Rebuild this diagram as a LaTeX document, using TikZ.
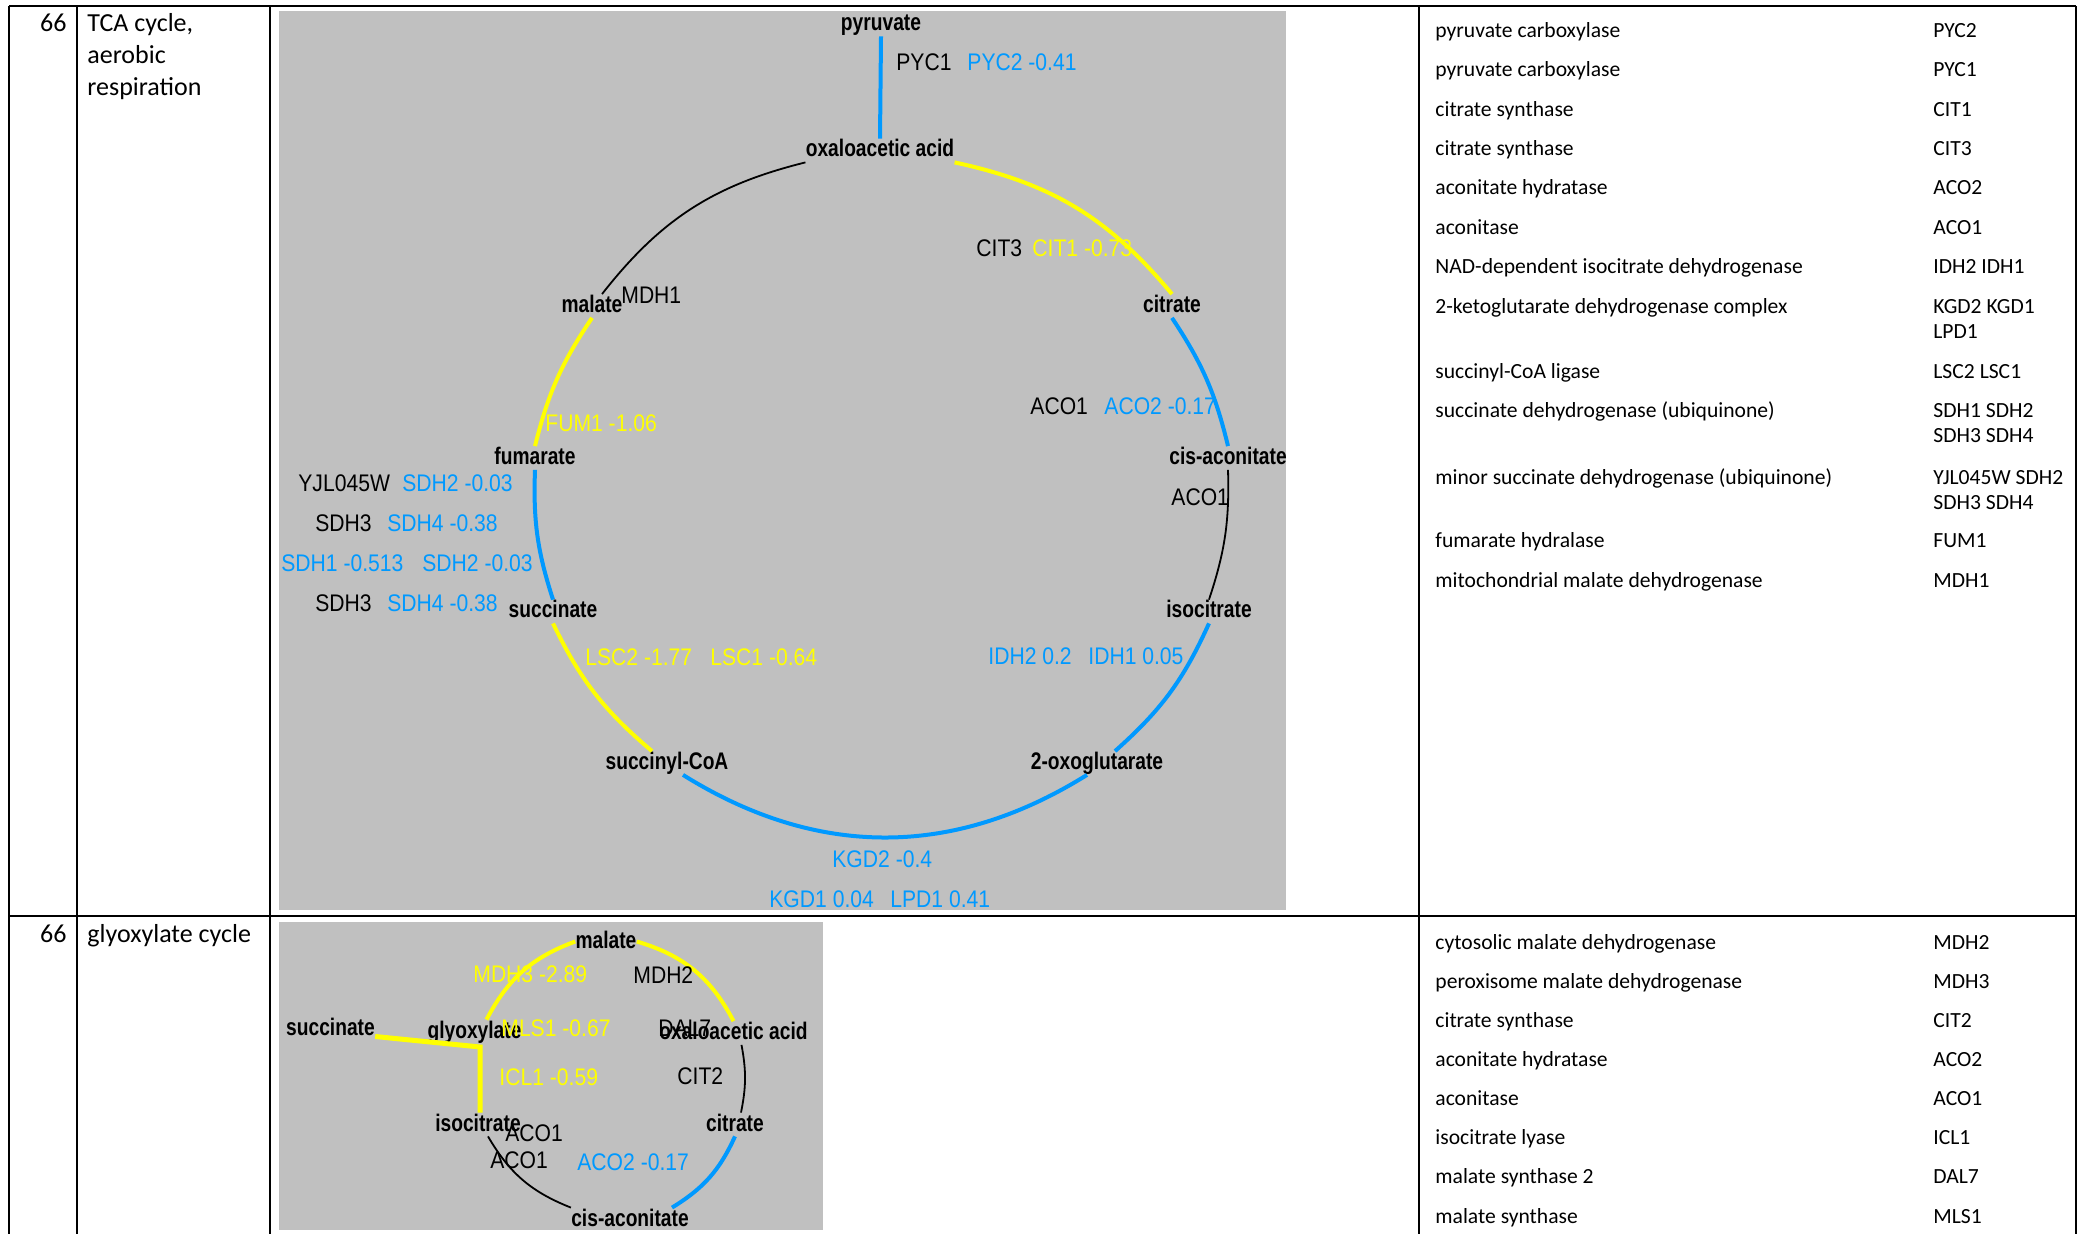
\documentclass[tikz,border=0pt]{standalone}
\usepackage{fontspec}
\setmainfont{Carlito}
\newfontfamily\mapfont[FakeStretch=0.88]{Liberation Sans}
\newfontfamily\mapbold[FakeStretch=0.8]{Liberation Sans Bold}
\usepackage{tikz}
\usetikzlibrary{calc}
\definecolor{panel}{RGB}{192,192,192}
\definecolor{upblue}{RGB}{0,153,255}
\definecolor{downyel}{RGB}{255,255,0}
\tikzset{
  rule/.style={line width=1.1pt},
  yel/.style={draw=downyel, line width=2pt},
  blu/.style={draw=upblue, line width=2pt},
  blk/.style={draw=black, line width=0.9pt},
  met/.style={font=\mapbold\fontsize{12}{14}\selectfont, inner sep=0pt, text height=9pt, text depth=2.5pt},
  gene/.style={font=\mapfont\fontsize{12}{14}\selectfont, inner sep=0pt, anchor=west},
  cell/.style={font=\fontsize{13}{16}\selectfont, inner sep=0pt, anchor=base west},
  enz/.style={font=\fontsize{10.8}{13}\selectfont, inner sep=0pt, anchor=base west}
}

\begin{document}
\begin{tikzpicture}[x=0.5pt, y=0.5pt]
  \useasboundingbox (0,0) rectangle (2082,-1234);
  % table rules
  \draw[rule] (9,-6) -- (2076,-6);
  \draw[rule] (9,-916) -- (2076,-916);
  \foreach \x in {9,77,270,1419,2076}
    \draw[rule] (\x,-6) -- (\x,-1234);
  % grey panels
  \fill[panel] (279,-11) rectangle (1286,-910);
  \fill[panel] (279,-922) rectangle (823,-1230);

  % first row
  \node[cell, anchor=base east] (num1) at (67,-32) {66};
  \node[cell] (cap1) at (87,-32) {TCA cycle,};
  \node[cell] (cap2) at (87,-64) {aerobic};
  \node[cell] (cap3) at (87,-96) {respiration};
  \foreach \name/\gene/\y [count=\i] in {
      pyruvate carboxylase/PYC2/38, pyruvate carboxylase/PYC1/77,
      citrate synthase/CIT1/116.5, citrate synthase/CIT3/156,
      aconitate hydratase/ACO2/194.5, aconitase/ACO1/235,
      NAD-dependent isocitrate dehydrogenase/IDH2 IDH1/273.5,
      2-ketoglutarate dehydrogenase complex/KGD2 KGD1/314,
      succinyl-CoA ligase/LSC2 LSC1/378.5,
      succinate dehydrogenase (ubiquinone)/SDH1 SDH2/417.5,
      minor succinate dehydrogenase (ubiquinone)/YJL045W SDH2/484.5,
      fumarate hydralase/FUM1/548,
      mitochondrial malate dehydrogenase/MDH1/588} {
    \node[enz] (enzA\i) at (1435,-\y) {\name};
    \node[enz] (genA\i) at (1933,-\y) {\gene};
  }
  \foreach \gene/\y [count=\i] in {LPD1/338.5, SDH3 SDH4/443, SDH3 SDH4/509.5}
    \node[enz] (genB\i) at (1933,-\y) {\gene};

  % TCA cycle metabolites
  \node[met] (pyr) at (881,-24.5) {pyruvate};
  \node[met] (oaa) at (880,-150.5) {oxaloacetic acid};
  \node[met] (cit) at (1172,-306) {citrate};
  \node[met] (cis) at (1228,-458) {cis-aconitate};
  \node[met] (icit) at (1209,-611.5) {isocitrate};
  \node[met] (akg) at (1097,-763) {2-oxoglutarate};
  \node[met] (sca) at (667,-763) {succinyl-CoA};
  \node[met] (suc) at (553,-611.5) {succinate};
  \node[met] (fum) at (535,-458) {fumarate};
  \node[met] (mal) at (592,-306) {malate};

  % TCA cycle reactions
  \draw[blu] (pyr.south) -- (oaa.north);
  \draw[yel] (oaa.south east) to[bend left=19] (cit.north);
  \draw[blu] (cit.south) to[bend left=10] (cis.north);
  \draw[blk] (cis.south) to[bend left=10] (icit.north);
  \draw[blu] (icit.south) to[bend left=12] ([xshift=9pt]akg.north);
  \draw[blu] ([xshift=-5pt]akg.south) to[bend left=32] ([xshift=8pt]sca.south);
  \draw[yel] ([xshift=-7.5pt]sca.north) to[bend left=12] (suc.south);
  \draw[blu] (suc.north) to[bend left=10] (fum.south);
  \draw[yel] (fum.north) to[bend left=10] (mal.south);
  \draw[blk] ([xshift=5pt]mal.north) to[bend left=19] (oaa.south west);

  % TCA cycle genes
  \node[gene] (pyc1) at (896,-62) {PYC1};
  \node[gene, text=upblue] (pyc2) at (967,-62) {PYC2 -0.41};
  \node[gene] (cit3) at (976,-248) {CIT3};
  \node[gene, text=downyel] (cit1) at (1032,-248) {CIT1 -0.73};
  \node[gene] (aco1a) at (1030,-406) {ACO1};
  \node[gene, text=upblue] (aco2a) at (1104,-406) {ACO2 -0.17};
  \node[gene] (aco1b) at (1171,-497) {ACO1};
  \node[gene, text=upblue] (idh2) at (988,-656) {IDH2 0.2};
  \node[gene, text=upblue] (idh1) at (1088,-656) {IDH1 0.05};
  \node[gene, text=upblue] (kgd2) at (832,-859) {KGD2 -0.4};
  \node[gene, text=upblue] (kgd1) at (769,-899) {KGD1 0.04};
  \node[gene, text=upblue] (lpd1) at (890,-899) {LPD1 0.41};
  \node[gene, text=downyel] (lsc2) at (585,-657) {LSC2 -1.77};
  \node[gene, text=downyel] (lsc1) at (710,-657) {LSC1 -0.64};
  \node[gene] (yjl) at (298,-483) {YJL045W};
  \node[gene, text=upblue] (sdh2a) at (402,-483) {SDH2 -0.03};
  \node[gene] (sdh3a) at (315,-523) {SDH3};
  \node[gene, text=upblue] (sdh4a) at (387,-523) {SDH4 -0.38};
  \node[gene, text=upblue] (sdh1) at (281,-563) {SDH1 -0.513};
  \node[gene, text=upblue] (sdh2b) at (422,-563) {SDH2 -0.03};
  \node[gene] (sdh3b) at (315,-603) {SDH3};
  \node[gene, text=upblue] (sdh4b) at (387,-603) {SDH4 -0.38};
  \node[gene, text=downyel] (fum1) at (545,-423) {FUM1 -1.06};
  \node[gene] (mdh1) at (621,-295) {MDH1};

  % second row
  \node[cell, anchor=base east] (num2) at (67,-942) {66};
  \node[cell] (cap4) at (87,-942) {glyoxylate cycle};
  \foreach \name/\gene/\y [count=\i] in {
      cytosolic malate dehydrogenase/MDH2/949.3,
      peroxisome malate dehydrogenase/MDH3/988.4,
      citrate synthase/CIT2/1027.5, aconitate hydratase/ACO2/1066.6,
      aconitase/ACO1/1105.7, isocitrate lyase/ICL1/1144.8,
      malate synthase 2/DAL7/1183.9, malate synthase/MLS1/1223} {
    \node[enz] (enzC\i) at (1435,-\y) {\name};
    \node[enz] (genC\i) at (1933,-\y) {\gene};
  }

  % glyoxylate cycle metabolites
  \node[met] (gmal) at (606,-941.5) {malate};
  \node[met] (gsuc) at (330.5,-1028.5) {succinate};
  \node[met] (ggly) at (474.5,-1031.5) {glyoxylate};
  \node[met] (goaa) at (733.5,-1033) {oxaloacetic acid};
  \node[met] (gicit) at (478,-1124.5) {isocitrate};
  \node[met] (gcit) at (735,-1124.5) {citrate};
  \node[met] (gcis) at (630,-1219.5) {cis-aconitate};
  \coordinate (gjoin) at (480,-1047);

  % glyoxylate cycle reactions
  \draw[yel] (gmal.west) to[bend right=21] ([xshift=6pt]ggly.north);
  \draw[yel] (gmal.east) to[bend left=23] (goaa.north);
  \draw[blk] ([xshift=4pt]goaa.south) to[bend left=11] ([xshift=3pt]gcit.north);
  \draw[blu] (gcit.south) to[bend left=17] ([xshift=21pt]gcis.north);
  \draw[blk] (gcis.north west) to[bend left=19] ([xshift=5pt]gicit.south);
  \draw[yel, line width=2.5pt] ([yshift=-4pt]gsuc.east) -- (gjoin) -- (gjoin |- gicit.north);

  % glyoxylate cycle genes
  \node[gene, text=downyel] (mdh3) at (473,-974) {MDH3 -2.89};
  \node[gene] (mdh2) at (633,-975) {MDH2};
  \node[gene, text=downyel] (mls1) at (501,-1028) {MLS1 -0.67};
  \node[gene] (dal7) at (658,-1028) {DAL7};
  \node[gene, text=downyel] (icl1) at (499,-1077) {ICL1 -0.59};
  \node[gene] (cit2) at (677,-1076) {CIT2};
  \node[gene] (aco1c) at (505,-1133) {ACO1};
  \node[gene] (aco1d) at (490,-1160) {ACO1};
  \node[gene, text=upblue] (aco2b) at (577,-1162) {ACO2 -0.17};
\end{tikzpicture}
\end{document}
